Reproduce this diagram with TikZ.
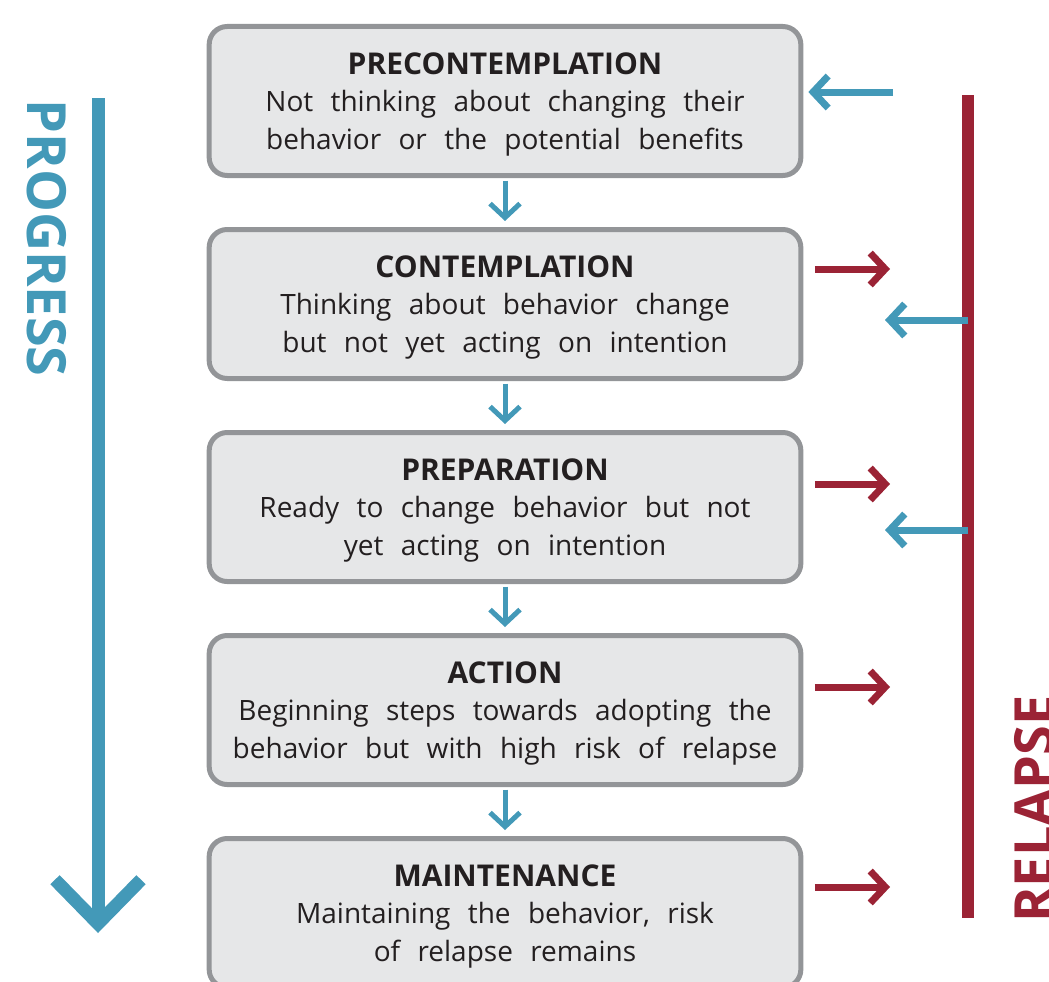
\documentclass[tikz,border=0pt]{standalone}
\usepackage{fontspec}
\setmainfont{Open Sans}
\usetikzlibrary{positioning, arrows.meta}

\definecolor{progblue}{HTML}{4399B8}
\definecolor{relred}{HTML}{9B2335}
\definecolor{boxgray}{HTML}{939598}
\definecolor{boxfill}{HTML}{E6E7E8}
\definecolor{inktext}{HTML}{231F20}

\newcommand{\stagetitle}[1]{{\bfseries\fontsize{30}{37.5}\selectfont\rule{0pt}{28.5pt}#1}}
\newcommand{\widewords}{\spaceskip=0.62em\relax}

\begin{document}
\begin{tikzpicture}[x=1pt, y=-1pt, node distance=203pt,
    stage/.style={draw=boxgray, fill=boxfill, line width=5pt, rounded corners=18pt,
        minimum width=591pt, minimum height=149pt, text width=585pt, align=center,
        text=inktext, font=\fontsize{28}{37.5}\selectfont,
        execute at begin node=\widewords},
    nextstep/.style={progblue, line width=5pt, shorten <=2.5pt, shorten >=6pt,
        -{Straight Barb[length=14pt, width=30pt]}},
    relapsearrow/.style={relred, line width=7pt, shorten <=11.5pt,
        -{Straight Barb[length=15pt, width=32pt]}},
    backarrow/.style={progblue, line width=7pt,
        -{Straight Barb[length=15pt, width=32pt]}},
    sidelabel/.style={font=\bfseries\fontsize{54}{54}\selectfont}]

    \useasboundingbox (0,0) rectangle (1049,982);

    % Stages
    \node[stage] (pre) at (505,101) {\stagetitle{PRECONTEMPLATION}\\
        Not thinking about changing their\\ behavior or the potential benefits};
    \node[stage] (con) [below of=pre] {\stagetitle{CONTEMPLATION}\\
        Thinking about behavior change\\ but not yet acting on intention};
    \node[stage] (prep) [below of=con] {\stagetitle{PREPARATION}\\
        Ready to change behavior but not\\ yet acting on intention};
    \node[stage] (act) [below of=prep] {\stagetitle{ACTION}\\
        Beginning steps towards adopting the\\ behavior but with high risk of relapse};
    \node[stage] (main) [below of=act] {\stagetitle{MAINTENANCE}\\
        Maintaining the behavior, risk\\ of relapse remains};

    % Stage to stage
    \path
    (pre) edge [nextstep] (con)
    (con) edge [nextstep] (prep)
    (prep) edge [nextstep] (act)
    (act) edge [nextstep] (main);

    % Progress
    \coordinate (ptop) at (98,98);
    \coordinate (pbot) at (98,933);
    \draw[progblue, line width=13pt, -{Straight Barb[length=44pt, width=86pt]}] (ptop) -- (pbot);
    \node[sidelabel, progblue, rotate=-90] (progress) at (47,238) {PROGRESS};

    % Relapse
    \coordinate (rtop) at (968,95);
    \coordinate (rbot) at (968,918);
    \draw[relred, line width=12pt] (rtop) -- (rbot);
    \node[sidelabel, relred, rotate=90] (relapse) at (1034,809) {RELAPSE};

    % Out to relapse
    \coordinate (r2) at (890,269);
    \coordinate (r3) at (890,484);
    \coordinate (r4) at (890,687);
    \coordinate (r5) at (890,887);
    \draw[relapsearrow] (con.east |- r2) -- (r2);
    \draw[relapsearrow] (prep.east |- r3) -- (r3);
    \draw[relapsearrow] (act.east |- r4) -- (r4);
    \draw[relapsearrow] (main.east |- r5) -- (r5);

    % Back from relapse
    \coordinate (b1) at (893,92);
    \coordinate (b2) at (885,320);
    \coordinate (b3) at (885,530);
    \draw[backarrow, shorten >=5pt] (b1) -- (pre.east |- b1);
    \draw[backarrow] (rtop |- b2) -- (b2);
    \draw[backarrow] (rtop |- b3) -- (b3);
\end{tikzpicture}
\end{document}
